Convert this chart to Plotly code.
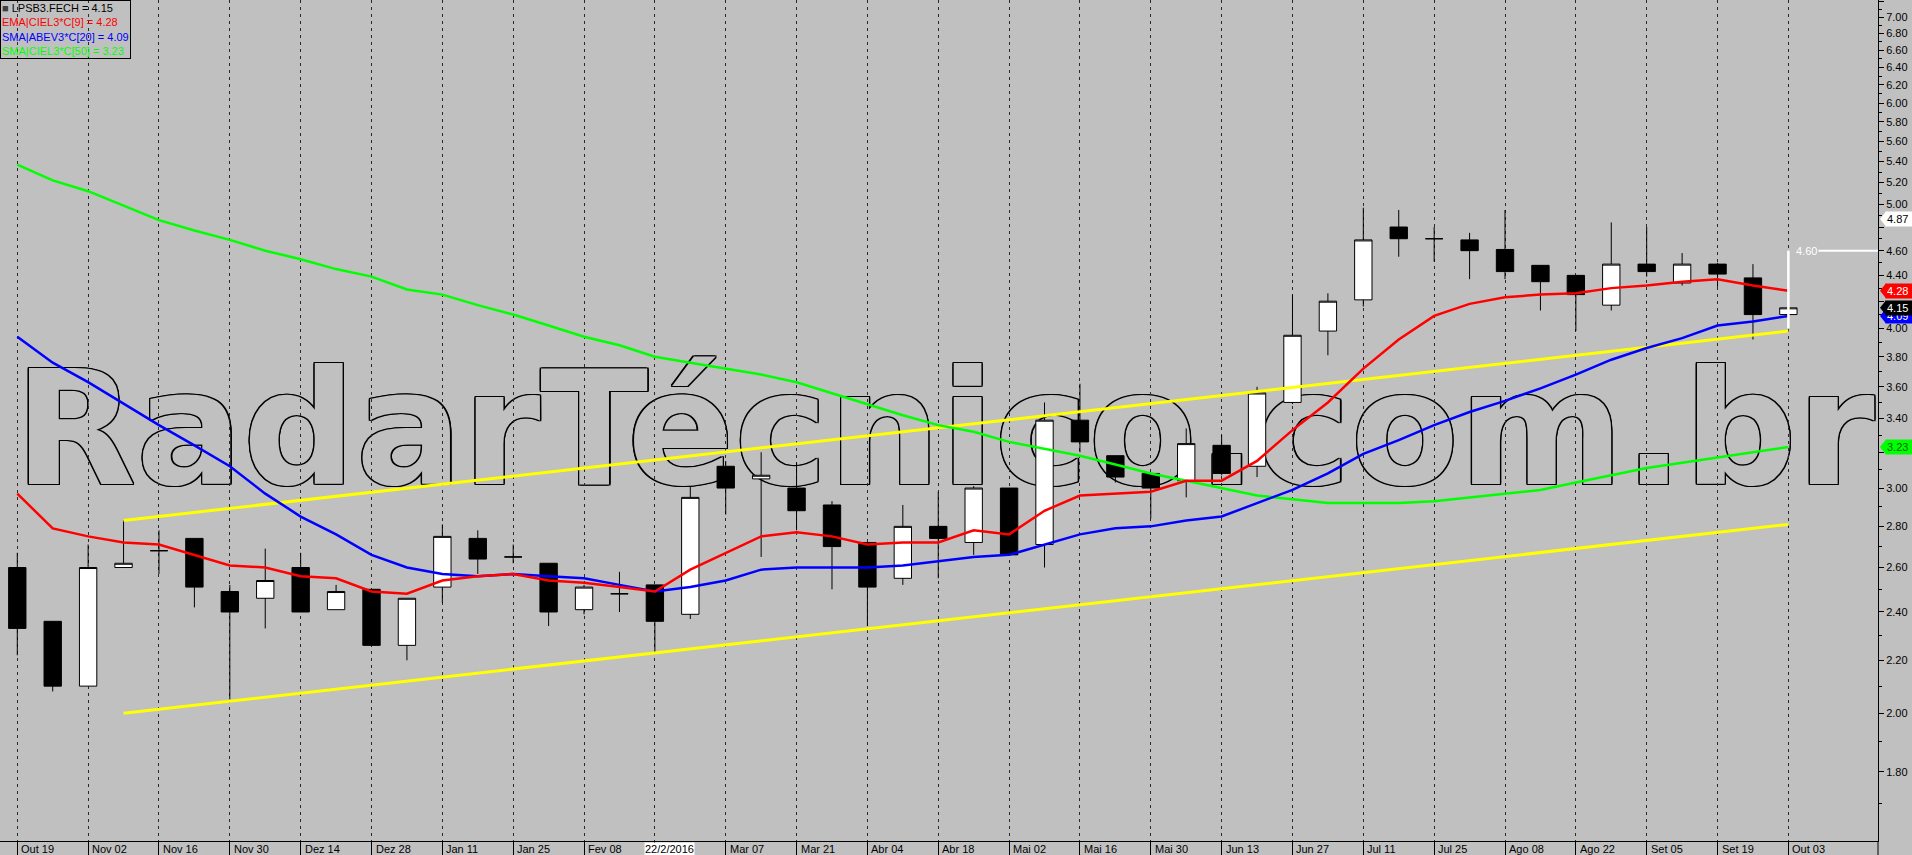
import math
import plotly.graph_objects as go

# ---------------- data (weekly candles, Oct 19 2015 .. Oct 03 2016) ----------------
opens = [2.60, 2.36, 2.10, 2.60, 2.68, 2.74, 2.49, 2.46, 2.60, 2.41,
         2.50, 2.26, 2.51, 2.74, 2.65, 2.62, 2.41, 2.48, 2.52, 2.39,
         3.12, 3.05, 3.00, 2.91, 2.72, 2.55, 2.80, 2.72, 3.00, 2.71,
         3.39, 3.18, 3.08, 3.04, 3.24, 3.12, 3.50, 3.98, 4.21, 4.80,
         4.70, 4.69, 4.61, 4.48, 4.40, 4.17, 4.49, 4.34, 4.49, 4.38,
         4.10]
highs = [2.67, 2.36, 2.71, 2.83, 2.78, 2.74, 2.52, 2.69, 2.67, 2.52,
         2.50, 2.46, 2.81, 2.78, 2.71, 2.62, 2.52, 2.58, 2.52, 3.01,
         3.15, 3.20, 3.14, 2.93, 2.72, 2.91, 2.98, 3.01, 3.00, 3.50,
         3.62, 3.18, 3.08, 3.34, 3.30, 3.60, 4.25, 4.26, 4.97, 4.95,
         4.80, 4.75, 4.95, 4.48, 4.40, 4.84, 4.80, 4.58, 4.50, 4.49,
         4.15]
lows = [2.22, 2.08, 2.10, 2.60, 2.57, 2.42, 2.05, 2.33, 2.40, 2.41,
        2.26, 2.20, 2.44, 2.57, 2.62, 2.34, 2.39, 2.40, 2.23, 2.37,
        2.86, 2.65, 2.78, 2.50, 2.34, 2.52, 2.55, 2.66, 2.66, 2.60,
        3.20, 3.03, 2.84, 2.95, 3.07, 3.06, 3.49, 3.81, 4.16, 4.55,
        4.51, 4.37, 4.37, 4.13, 3.98, 4.13, 4.39, 4.32, 4.31, 3.92,
        4.10]
closes = [2.33, 2.10, 2.60, 2.62, 2.68, 2.51, 2.40, 2.54, 2.40, 2.49,
          2.26, 2.46, 2.75, 2.64, 2.65, 2.40, 2.51, 2.48, 2.36, 2.95,
          3.00, 3.07, 2.88, 2.70, 2.51, 2.80, 2.74, 3.00, 2.66, 3.39,
          3.26, 3.06, 3.00, 3.25, 3.08, 3.56, 3.95, 4.20, 4.69, 4.70,
          4.70, 4.60, 4.43, 4.35, 4.25, 4.49, 4.43, 4.49, 4.41, 4.10,
          4.15]

ema9 = [2.97, 2.79, 2.75, 2.72, 2.71, 2.66, 2.61, 2.60, 2.56, 2.55,
        2.49, 2.48, 2.54, 2.56, 2.57, 2.54, 2.53, 2.51, 2.49, 2.59,
        2.67, 2.75, 2.77, 2.75, 2.71, 2.72, 2.72, 2.78, 2.76, 2.88,
        2.96, 2.97, 2.98, 3.04, 3.04, 3.15, 3.33, 3.50, 3.72, 3.92,
        4.09, 4.18, 4.23, 4.25, 4.26, 4.30, 4.32, 4.35, 4.37, 4.32,
        4.28]
sma20 = [3.94, 3.76, 3.63, 3.49, 3.36, 3.24, 3.12, 2.97, 2.85, 2.76,
         2.66, 2.60, 2.57, 2.56, 2.57, 2.56, 2.55, 2.52, 2.49, 2.51,
         2.54, 2.59, 2.60, 2.60, 2.60, 2.61, 2.63, 2.65, 2.66, 2.71,
         2.76, 2.79, 2.80, 2.83, 2.85, 2.92, 2.99, 3.08, 3.19, 3.27,
         3.36, 3.44, 3.51, 3.59, 3.68, 3.78, 3.86, 3.93, 4.02, 4.05,
         4.09]
sma50 = [5.37, 5.22, 5.12, 4.99, 4.86, 4.77, 4.69, 4.60, 4.53, 4.45,
         4.39, 4.29, 4.25, 4.17, 4.10, 4.02, 3.94, 3.88, 3.80, 3.76,
         3.72, 3.68, 3.63, 3.56, 3.49, 3.42, 3.36, 3.32, 3.26, 3.22,
         3.18, 3.13, 3.08, 3.04, 3.00, 2.96, 2.94, 2.92, 2.92, 2.92,
         2.93, 2.95, 2.97, 2.99, 3.03, 3.07, 3.11, 3.14, 3.17, 3.20,
         3.23]

# trend channel (start/end index and price)
channel_idx = [3, 50]
channel_upper = [2.83, 3.98]
channel_lower = [2.00, 2.81]

# price target drawing
target_price = 4.60
target_low = 4.00
marker_high = 4.87

x_tick_idx = list(range(0, 51, 2))
x_tick_labels = ["Out 19", "Nov 02", "Nov 16", "Nov 30", "Dez 14", "Dez 28",
                 "Jan 11", "Jan 25", "Fev 08", "22/2/2016", "Mar 07", "Mar 21",
                 "Abr 04", "Abr 18", "Mai 02", "Mai 16", "Mai 30", "Jun 13",
                 "Jun 27", "Jul 11", "Jul 25", "Ago 08", "Ago 22", "Set 05",
                 "Set 19", "Out 03"]
highlight_label = "22/2/2016"

y_tick_vals = [round(1.8 + 0.2 * k, 2) for k in range(28)]
y_minor_vals = [round(1.7 + 0.2 * k, 2) for k in range(28)]
y_hidden_labels = [4.80, 4.20, 3.20]   # covered by the value markers

# ---------------- figure ----------------
W, H = 1912, 855
ML, MR, MT, MB = 0, 34, 0, 14
PW, PH = W - ML - MR, H - MT - MB
n = len(closes)
idx = list(range(n))

BG = "#c0c0c0"
FONT = "Liberation Sans, Arial, sans-serif"
NARROW = "Liberation Sans Narrow, Arial Narrow, Liberation Sans, sans-serif"

fig = go.Figure()

fig.add_trace(go.Scatter(x=channel_idx, y=channel_upper, mode="lines",
                         line=dict(color="#ffff00", width=3), hoverinfo="skip"))
fig.add_trace(go.Scatter(x=channel_idx, y=channel_lower, mode="lines",
                         line=dict(color="#ffff00", width=3), hoverinfo="skip"))
fig.add_trace(go.Scatter(x=idx, y=sma50, mode="lines",
                         line=dict(color="#00ff00", width=2.5), name="SMA50"))
fig.add_trace(go.Scatter(x=idx, y=sma20, mode="lines",
                         line=dict(color="#0000ff", width=2.5), name="SMA20"))
fig.add_trace(go.Scatter(x=idx, y=ema9, mode="lines",
                         line=dict(color="#ff0000", width=2.5), name="EMA9"))
fig.add_trace(go.Candlestick(
    x=idx, open=opens, high=highs, low=lows, close=closes,
    increasing=dict(line=dict(color="black", width=1), fillcolor="white"),
    decreasing=dict(line=dict(color="black", width=1), fillcolor="black"),
    whiskerwidth=0, name="LPSB3"))

shapes = []
annotations = []

# watermark: outlined text (black offsets + grey fill), under everything
wm_cx = (947 - 2.4) / PW
wm_cy = 1 - 418 / PH
wm_text = "<b>RadarTécnico.com.br</b>"
d = 1.3
offsets = [(-d, 0), (d, 0), (0, -d), (0, d), (-d, -d), (d, d), (-d, d), (d, -d), (0, 0)]
for k, (ox, oy) in enumerate(offsets):
    cx = wm_cx + ox / PW
    cy = wm_cy + oy / PH
    color = "black" if k < 8 else BG
    shapes.append(dict(type="rect", xref="paper", yref="paper",
                       x0=cx - 0.1, x1=cx + 0.1, y0=cy - 0.05, y1=cy + 0.05,
                       line=dict(width=0), fillcolor="rgba(0,0,0,0)", layer="below",
                       label=dict(text=wm_text, textposition="middle center",
                                  font=dict(family="DejaVu Sans", size=158, color=color))))

# target drawing (white)
shapes.append(dict(type="line", xref="x", yref="y", x0=idx[-1], x1=idx[-1],
                   y0=target_low, y1=target_price, line=dict(color="white", width=2.5)))
shapes.append(dict(type="line", xref="x", yref="y", x0=idx[-1] + 0.85, x1=52.6,
                   y0=target_price, y1=target_price, line=dict(color="white", width=2)))
annotations.append(dict(xref="x", yref="y", x=idx[-1] + 0.5, y=math.log10(target_price),
                        text=f"{target_price:.2f}", showarrow=False,
                        font=dict(family=FONT, size=11, color="white")))

shapes.append(dict(type="line", xref="paper", yref="paper", x0=1, x1=1, y0=0, y1=-MB / PH,
                   line=dict(color="black", width=1)))

markers = [(marker_high, "white", "black"),
           (sma50[-1], "#00ff00", "#006000"),
           (sma20[-1], "#0000ff", "white"),
           (ema9[-1], "#ff0000", "white"),
           (closes[-1], "black", "white")]
for val, bg, fg in markers:
    shapes.append(dict(type="path", xref="paper", yref="y", xsizemode="pixel", ysizemode="pixel",
                       xanchor=1, yanchor=val, path="M 2 0 L 8 -7.5 L 8 7.5 Z",
                       fillcolor=bg, line=dict(width=0), layer="above"))
    annotations.append(dict(xref="paper", yref="y", x=1, y=math.log10(val), xanchor="left",
                            xshift=7, text=f"{val:.2f}", showarrow=False, bgcolor=bg,
                            borderpad=1, width=25, align="left",
                            font=dict(family=FONT, size=11, color=fg)))

for i, lab in zip(x_tick_idx, x_tick_labels):
    hl = lab == highlight_label
    annotations.append(dict(xref="x", yref="paper", x=i, y=0, xanchor="left", yanchor="top",
                            xshift=-11 if hl else 3, yshift=-1, text=lab, showarrow=False,
                            bgcolor="white" if hl else None, borderpad=0,
                            font=dict(family=NARROW, size=11, color="black")))

legend_text = (f'<span style="color:#404040">■</span> LPSB3.FECH = {closes[-1]:.2f}<br>'
               f'<span style="color:#ff0000">EMA|CIEL3*C[9] = {ema9[-1]:.2f}</span><br>'
               f'<span style="color:#0000ff">SMA|ABEV3*C[20] = {sma20[-1]:.2f}</span><br>'
               f'<span style="color:#00ff00">SMA|CIEL3*C[50] = {sma50[-1]:.2f}</span>')
annotations.append(dict(xref="paper", yref="paper", x=0, y=1, xanchor="left", yanchor="top",
                        text=legend_text, showarrow=False, align="left",
                        bordercolor="black", borderwidth=1, borderpad=1,
                        font=dict(family=FONT, size=11, color="black")))

ytext = ["" if v in y_hidden_labels else f"{v:.2f}" for v in y_tick_vals]

ymin, ymax = 1.589, 7.224
fig.update_layout(
    width=W, height=H, autosize=False,
    margin=dict(l=ML, r=MR, t=MT, b=MB, pad=0, autoexpand=False),
    paper_bgcolor=BG, plot_bgcolor=BG,
    showlegend=False,
    shapes=shapes, annotations=annotations,
    xaxis=dict(range=[-0.488, 52.53], tickmode="array", tickvals=x_tick_idx,
               ticktext=[""] * len(x_tick_idx), showticklabels=False,
               ticks="outside", ticklen=MB, tickcolor="black", tickwidth=1,
               showgrid=True, gridcolor="#2a2a2a", gridwidth=1, griddash="3px,4px",
               showline=True, linecolor="black", linewidth=1, zeroline=False,
               rangeslider=dict(visible=False), fixedrange=True),
    yaxis=dict(type="log", range=[math.log10(ymin), math.log10(ymax)], side="right",
               tickmode="array", tickvals=y_tick_vals, ticktext=ytext,
               ticks="outside", ticklen=5, tickcolor="black", tickwidth=1,
               tickfont=dict(family=FONT, size=11, color="black"),
               minor=dict(tickmode="array", tickvals=y_minor_vals, ticks="outside",
                          ticklen=3, tickcolor="black", showgrid=False),
               showgrid=False, showline=True, linecolor="black", linewidth=1,
               zeroline=False, fixedrange=True),
)

fig.write_html("out.html", config={"displayModeBar": False},
               post_script="document.body.style.margin='0';document.body.style.overflow='hidden';")
